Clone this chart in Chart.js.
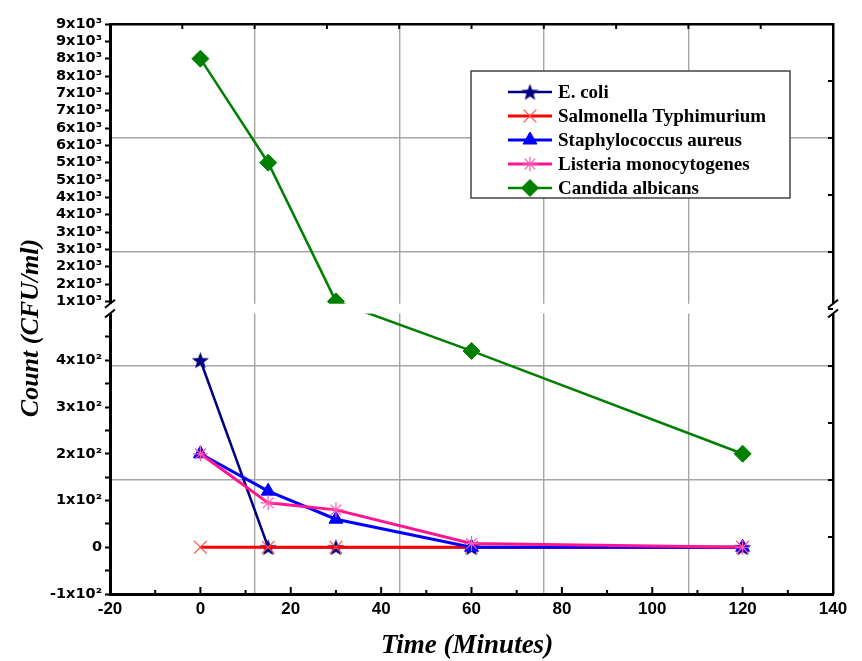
<!DOCTYPE html>
<html lang="en">
<head>
    <meta charset="UTF-8">
    <title>Count vs Time</title>
    <script src="https://cdn.jsdelivr.net/npm/chart.js"></script>
    <style>
        body { margin: 0; background: #fff; }
    </style>
</head>
<body>

<canvas id="myChart" width="862" height="661"></canvas>

<script>
// data
const xValues = [0, 15, 30, 60, 120];
const seriesNames = ["E. coli", "Salmonella Typhimurium", "Staphylococcus aureus", "Listeria monocytogenes", "Candida albicans"];
const ecoli = [400, 0, 0, 0, 0];
const salmonella = [0, 0, 0, 0, 0];
const staph = [200, 120, 60, 0, 0];
const listeria = [200, 95, 80, 8, 0];
const candida = [8000, 5000, 1000, 420, 200];

// tick labels (broken y axis)
const lowerTickValues = [-100, 0, 100, 200, 300, 400];
const lowerTickLabels = ["-1x10²", "0", "1x10²", "2x10²", "3x10²", "4x10²"];
const lowerMinorValues = [-50, 50, 150, 250, 350, 450];
const upperTickValues = [1000, 1500, 2000, 2500, 3000, 3500, 4000, 4500, 5000, 5500, 6000, 6500, 7000, 7500, 8000, 8500, 9000];
const upperTickLabels = ["1x10³", "2x10³", "2x10³", "3x10³", "3x10³", "4x10³", "4x10³", "5x10³", "5x10³",
                         "6x10³", "6x10³", "7x10³", "7x10³", "8x10³", "8x10³", "9x10³", "9x10³"];

// axis break: lower part is linear up to 500, upper part is compressed
const BREAK_LOW = 500;
const BREAK_HIGH_T = 521;
const UPPER_BASE = 1000;
const UPPER_BASE_T = 526;
const UPPER_RATIO = 13.48;

function toAxis(v) {
    return v <= BREAK_LOW ? v : UPPER_BASE_T + (v - UPPER_BASE) / UPPER_RATIO;
}

const yTicks = [];
lowerTickValues.forEach((v, i) => yTicks.push({ pos: toAxis(v), label: lowerTickLabels[i] }));
lowerMinorValues.forEach(v => yTicks.push({ pos: toAxis(v), label: "" }));
upperTickValues.forEach((v, i) => yTicks.push({ pos: toAxis(v), label: upperTickLabels[i] }));
yTicks.sort((a, b) => a.pos - b.pos);

// filled five point star for E. coli
function makeStar(color, size) {
    const c = document.createElement("canvas");
    c.width = size; c.height = size;
    const g = c.getContext("2d");
    const cx = size / 2, cy = size / 2 + 0.8, R = size / 2 - 0.5, r = R * 0.42;
    g.beginPath();
    for (let i = 0; i < 10; i++) {
        const a = -Math.PI / 2 + i * Math.PI / 5;
        const rr = i % 2 === 0 ? R : r;
        g.lineTo(cx + rr * Math.cos(a), cy + rr * Math.sin(a));
    }
    g.closePath();
    g.fillStyle = color;
    g.fill();
    return c;
}
const starImg = makeStar("#000080", 19);

function pts(arr) {
    return arr.map((v, i) => ({ x: xValues[i], y: toAxis(v) }));
}

const datasets = [
    { label: seriesNames[0], data: pts(ecoli), borderColor: "#000080", backgroundColor: "#000080",
      pointStyle: starImg, pointRadius: 9, borderWidth: 2.5, order: 5 },
    { label: seriesNames[1], data: pts(salmonella), borderColor: "#ff0000", backgroundColor: "#ff4a4a",
      pointBorderColor: "#ff4a4a", pointStyle: "crossRot", pointRadius: 9, pointBorderWidth: 1.2, borderWidth: 3, order: 4 },
    { label: seriesNames[2], data: pts(staph), borderColor: "#0000ff", backgroundColor: "#0000ff",
      pointStyle: "triangle", pointRadius: 8, pointBorderWidth: 1, borderWidth: 3, order: 3 },
    { label: seriesNames[3], data: pts(listeria), borderColor: "#ff1493", backgroundColor: "#ff5ab0",
      pointBorderColor: "#ff5ab0", pointStyle: "star", pointRadius: 7.5, pointBorderWidth: 1.2, borderWidth: 3, order: 2 },
    { label: seriesNames[4], data: pts(candida), borderColor: "#008000", backgroundColor: "#008000",
      pointStyle: "rectRot", pointRadius: 8.5, pointBorderWidth: 1, borderWidth: 2.5, order: 1 }
];

const extras = {
    id: "extras",
    afterDatasetsDraw(chart) {
        const ctx = chart.ctx, a = chart.chartArea, y = chart.scales.y;
        const yLo = y.getPixelForValue(BREAK_LOW);
        const yHi = y.getPixelForValue(BREAK_HIGH_T);
        ctx.save();
        ctx.fillStyle = "#fff";
        ctx.fillRect(a.left - 7, yHi, a.right - a.left + 14, yLo - yHi);
        ctx.strokeStyle = "#000";
        ctx.lineWidth = 2;
        [yHi, yLo].forEach(py => {
            [a.left, a.right].forEach(px => {
                ctx.beginPath();
                ctx.moveTo(px - 5, py + 4);
                ctx.lineTo(px + 5, py - 4);
                ctx.stroke();
            });
        });
        ctx.restore();
    },
    afterDraw(chart) {
        const ctx = chart.ctx, a = chart.chartArea;
        const x = chart.scales.x, x2 = chart.scales.x2, y2 = chart.scales.y2;
        ctx.save();
        ctx.strokeStyle = "#000";
        ctx.lineWidth = 2;
        // inward ticks on the bottom axis
        for (let v = -20; v <= 140; v += 10) {
            const px = x.getPixelForValue(v);
            const len = v % 20 === 0 ? 7 : 4;
            ctx.beginPath(); ctx.moveTo(px, a.bottom); ctx.lineTo(px, a.bottom - len); ctx.stroke();
        }
        // inward ticks on top and right, following the grid
        for (let v = 0.5; v < 5; v += 0.5) {
            const len = 5;
            const px = x2.getPixelForValue(v);
            ctx.beginPath(); ctx.moveTo(px, a.top); ctx.lineTo(px, a.top + len); ctx.stroke();
            const py = y2.getPixelForValue(v);
            ctx.beginPath(); ctx.moveTo(a.right, py); ctx.lineTo(a.right - len, py); ctx.stroke();
        }

        // axis titles
        ctx.fillStyle = "#000";
        ctx.textAlign = "center";
        ctx.textBaseline = "middle";
        ctx.font = 'bold italic 27px "Liberation Serif", serif';
        ctx.fillText("Time (Minutes)", 467, 646);
        ctx.save();
        ctx.translate(31, 328);
        ctx.rotate(-Math.PI / 2);
        ctx.font = 'bold italic 26px "Liberation Serif", serif';
        ctx.fillText("Count (CFU/ml)", 0, 0);
        ctx.restore();

        // legend box
        const bx = 471, by = 71, bw = 319, bh = 127;
        ctx.fillStyle = "#fff";
        ctx.fillRect(bx, by, bw, bh);
        ctx.strokeStyle = "#444";
        ctx.lineWidth = 1.5;
        ctx.strokeRect(bx, by, bw, bh);
        ctx.font = 'bold 19px "Liberation Serif", serif';
        ctx.textAlign = "left";
        chart.data.datasets.forEach((ds, i) => {
            const ly = 92 + i * 24;
            ctx.strokeStyle = ds.borderColor;
            ctx.lineWidth = ds.borderWidth;
            ctx.beginPath(); ctx.moveTo(508, ly); ctx.lineTo(552, ly); ctx.stroke();
            ctx.fillStyle = ds.backgroundColor;
            ctx.strokeStyle = ds.pointBorderColor || ds.borderColor;
            ctx.lineWidth = ds.pointBorderWidth || 1;
            if (Chart.helpers && Chart.helpers.drawPoint) {
                Chart.helpers.drawPoint(ctx, { pointStyle: ds.pointStyle, radius: ds.pointRadius, rotation: 0, borderWidth: ds.pointBorderWidth || 1 }, 530, ly);
            }
            ctx.fillStyle = "#000";
            ctx.fillText(ds.label, 558, ly + 1);
        });
        ctx.restore();
    }
};

const ctx = document.getElementById("myChart").getContext("2d");
const chart = new Chart(ctx, {
    type: "line",
    data: { datasets: datasets },
    plugins: [extras],
    options: {
        responsive: false,
        animation: false,
        layout: { padding: { left: 0, top: 24, right: 29, bottom: 0 } },
        plugins: { legend: { display: false }, tooltip: { enabled: false } },
        elements: { line: { tension: 0 } },
        scales: {
            x: {
                type: "linear", min: -20, max: 140,
                ticks: { stepSize: 20, padding: 5, color: "#000",
                         font: { family: '"Liberation Sans"', size: 17, weight: "bold" } },
                grid: { drawOnChartArea: false, drawTicks: false },
                border: { display: true, color: "#000", width: 3 },
                afterFit(scale) { scale.height = 67; }
            },
            y: {
                type: "linear", min: -100, max: toAxis(9000),
                afterBuildTicks(scale) { scale.ticks = yTicks.map(t => ({ value: t.pos })); },
                ticks: {
                    autoSkip: false, padding: 3, color: "#000",
                    font: { family: '"DejaVu Sans"', size: 14.5, weight: "bold" },
                    callback: (val, i) => yTicks[i].label
                },
                grid: { drawOnChartArea: false, drawTicks: true, tickLength: 5, tickWidth: 2, tickColor: "#000" },
                border: { display: true, color: "#000", width: 3 },
                afterFit(scale) { scale.width = 110; }
            },
            x2: {
                type: "linear", position: "top", min: 0, max: 5,
                ticks: { display: false, stepSize: 1 },
                grid: { color: "#a6a6a6", lineWidth: 1.4, drawTicks: false },
                border: { display: true, color: "#000", width: 2.5 },
                afterFit(scale) { scale.height = 0; }
            },
            y2: {
                type: "linear", position: "right", min: 0, max: 5,
                ticks: { display: false, stepSize: 1 },
                grid: { color: "#a6a6a6", lineWidth: 1.4, drawTicks: false },
                border: { display: true, color: "#000", width: 2.5 },
                afterFit(scale) { scale.width = 0; }
            }
        }
    }
});
</script>

</body>
</html>
